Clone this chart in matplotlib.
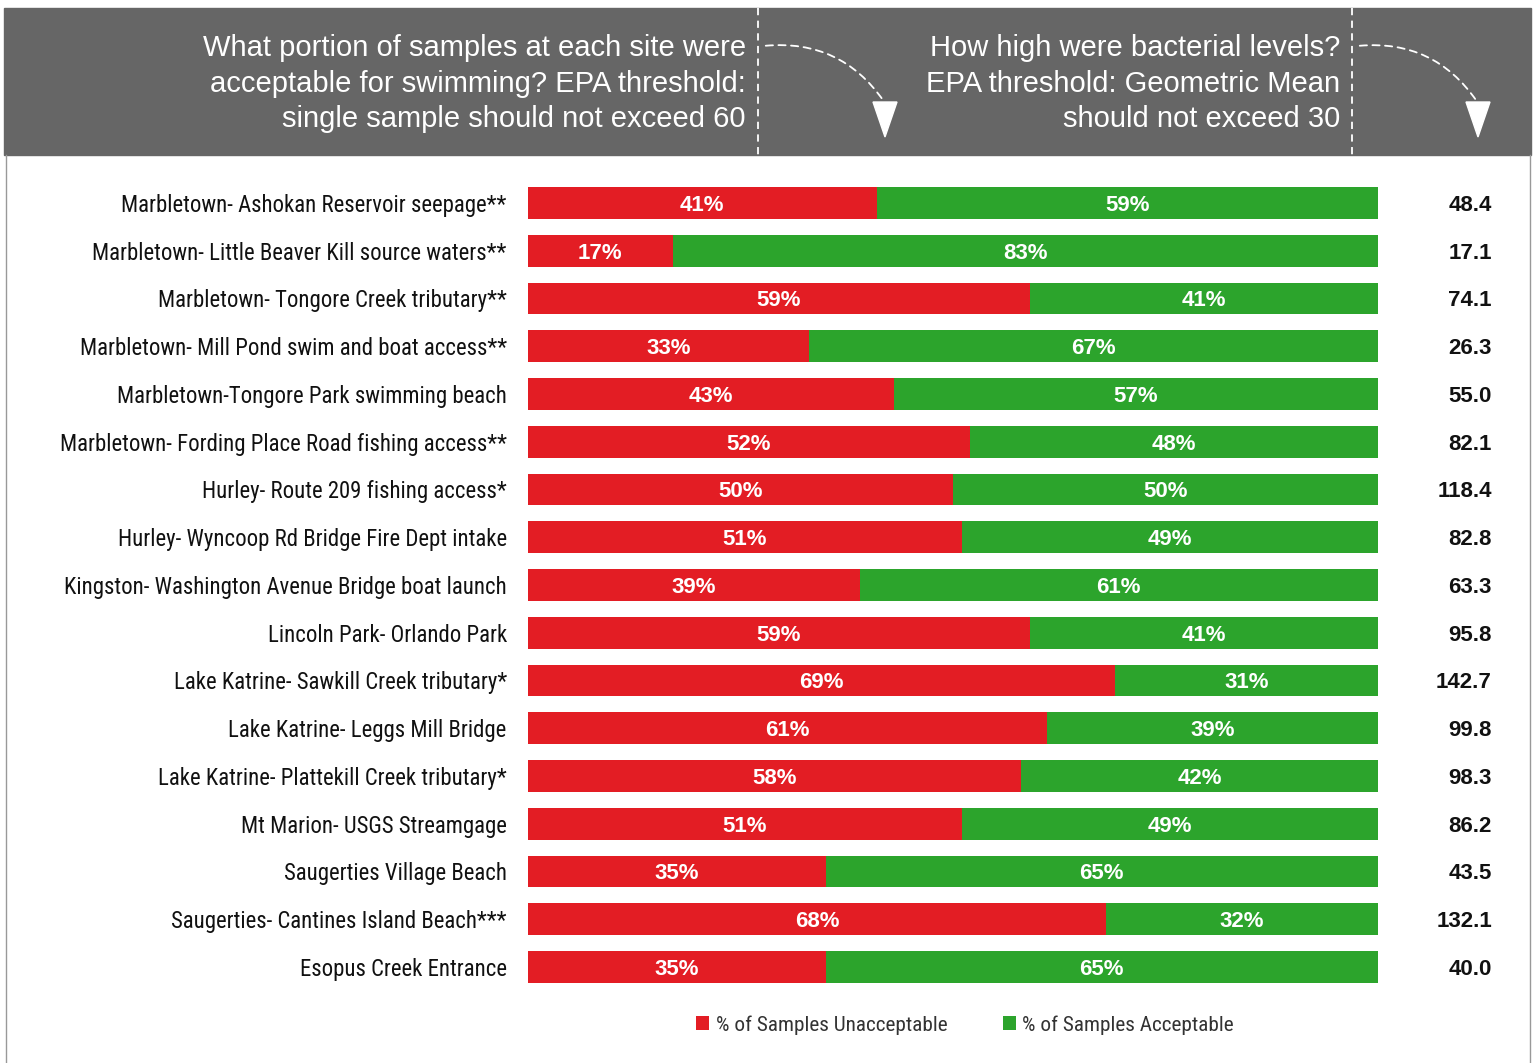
import matplotlib.pyplot as plt
from matplotlib.patches import Rectangle, Polygon, FancyArrowPatch
from matplotlib import font_manager
import numpy as np

sites = [
    "Marbletown- Ashokan Reservoir seepage**",
    "Marbletown- Little Beaver Kill source waters**",
    "Marbletown- Tongore Creek tributary**",
    "Marbletown- Mill Pond swim and boat access**",
    "Marbletown-Tongore Park swimming beach",
    "Marbletown- Fording Place Road fishing access**",
    "Hurley- Route 209 fishing access*",
    "Hurley- Wyncoop Rd Bridge Fire Dept intake",
    "Kingston- Washington Avenue Bridge boat launch",
    "Lincoln Park- Orlando Park",
    "Lake Katrine- Sawkill Creek tributary*",
    "Lake Katrine- Leggs Mill Bridge",
    "Lake Katrine- Plattekill Creek tributary*",
    "Mt Marion- USGS Streamgage",
    "Saugerties Village Beach",
    "Saugerties- Cantines Island Beach***",
    "Esopus Creek Entrance",
]
unacceptable = [41, 17, 59, 33, 43, 52, 50, 51, 39, 59, 69, 61, 58, 51, 35, 68, 35]
acceptable = [59, 83, 41, 67, 57, 48, 50, 49, 61, 41, 31, 39, 42, 49, 65, 32, 65]
geomean = [48.4, 17.1, 74.1, 26.3, 55.0, 82.1, 118.4, 82.8, 63.3, 95.8,
           142.7, 99.8, 98.3, 86.2, 43.5, 132.1, 40.0]

red = '#E31D24'
green = '#2CA42C'

# use a condensed face if one is installed, else Liberation Sans
installed = {f.name for f in font_manager.fontManager.ttflist}
narrow_face = 'Liberation Sans'
for cand in ['Liberation Sans Narrow', 'Roboto Condensed', 'Open Sans Condensed']:
    if cand in installed:
        narrow_face = cand
        break
narrow = [narrow_face, 'DejaVu Sans']
sans = ['Liberation Sans', 'DejaVu Sans']

W, H = 1536, 1063
fig = plt.figure(figsize=(W / 100, H / 100), dpi=100)
renderer = fig.canvas.get_renderer()


def fit_size(text, width_px, base=16, family=narrow):
    t = fig.text(0, 0, text, fontsize=base, family=family)
    w = t.get_window_extent(renderer).width
    t.remove()
    return base * width_px / w


label_size = min(16.5, fit_size(sites[8], 442))
legend_size = min(15.5, fit_size("% of Samples Unacceptable", 233))

# overlay in pixel coordinates for header and decorations
deco = fig.add_axes([0, 0, 1, 1])
deco.set_xlim(0, W)
deco.set_ylim(H, 0)
deco.axis('off')

deco.add_patch(Rectangle((4, 8), 1527, 147, color='#666666', zorder=0))
deco.plot([6, 6], [155, H], color='#999999', lw=1)
deco.plot([1530, 1530], [155, H], color='#999999', lw=1)
for xv in [758, 1352]:
    deco.plot([xv, xv], [8, 155], color='white', lw=1.3, ls=(0, (4, 3)))

hdr1 = ["What portion of samples at each site were",
        "acceptable for swimming? EPA threshold:",
        "single sample should not exceed 60"]
hdr2 = ["How high were bacterial levels?",
        "EPA threshold: Geometric Mean",
        "should not exceed 30"]
for i, (a, b) in enumerate(zip(hdr1, hdr2)):
    yy = 48 + i * 35.5
    deco.text(746, yy, a, color='white', fontsize=21, ha='right', va='center',
              family=sans)
    deco.text(1340, yy, b, color='white', fontsize=21, ha='right', va='center',
              family=sans)

for x0, x1 in [(763, 885), (1357, 1478)]:
    arr = FancyArrowPatch((x0, 46), (x1, 103), arrowstyle='-',
                          connectionstyle='arc3,rad=-0.3', color='white',
                          lw=1.3, ls=(0, (4, 3)))
    deco.add_patch(arr)
    deco.add_patch(Polygon([[x1 - 12, 102], [x1 + 12, 102], [x1, 137]],
                           closed=True, color='white'))

# main bar axes
top_px = 203 - 47.75 / 2
bot_px = 967 + 47.75 / 2
ax = fig.add_axes([528 / W, 1 - bot_px / H, 850 / W, (bot_px - top_px) / H])
y = np.arange(len(sites))
ax.barh(y, unacceptable, height=0.67, color=red, label='% of Samples Unacceptable')
ax.barh(y, acceptable, left=unacceptable, height=0.67, color=green,
        label='% of Samples Acceptable')
ax.set_xlim(0, 100)
ax.set_ylim(len(sites) - 0.5, -0.5)
ax.axis('off')

dy = 0.05  # nudge text down a touch
for i in range(len(sites)):
    u, a = unacceptable[i], acceptable[i]
    ax.text(-2.5, i + dy, sites[i], ha='right', va='center', fontsize=label_size,
            family=narrow, color='#111111')
    ax.text(u / 2, i + dy, f"{u}%", ha='center', va='center', color='white',
            fontsize=16, fontweight='bold', family=sans)
    ax.text(u + a / 2, i + dy, f"{a}%", ha='center', va='center', color='white',
            fontsize=16, fontweight='bold', family=sans)
    ax.text(113.4, i + dy, f"{geomean[i]:.1f}", ha='right', va='center',
            color='#111111', fontsize=16, fontweight='bold', family=sans)

leg = fig.legend(loc='center', bbox_to_anchor=(965 / W, 1 - 1025 / H), ncol=2,
                 frameon=False, handlelength=0.6, handleheight=0.6,
                 handletextpad=0.3, columnspacing=2.6,
                 prop={'family': narrow, 'size': legend_size})
for t in leg.get_texts():
    t.set_color('#333333')

fig.savefig('out.png', dpi=100)
